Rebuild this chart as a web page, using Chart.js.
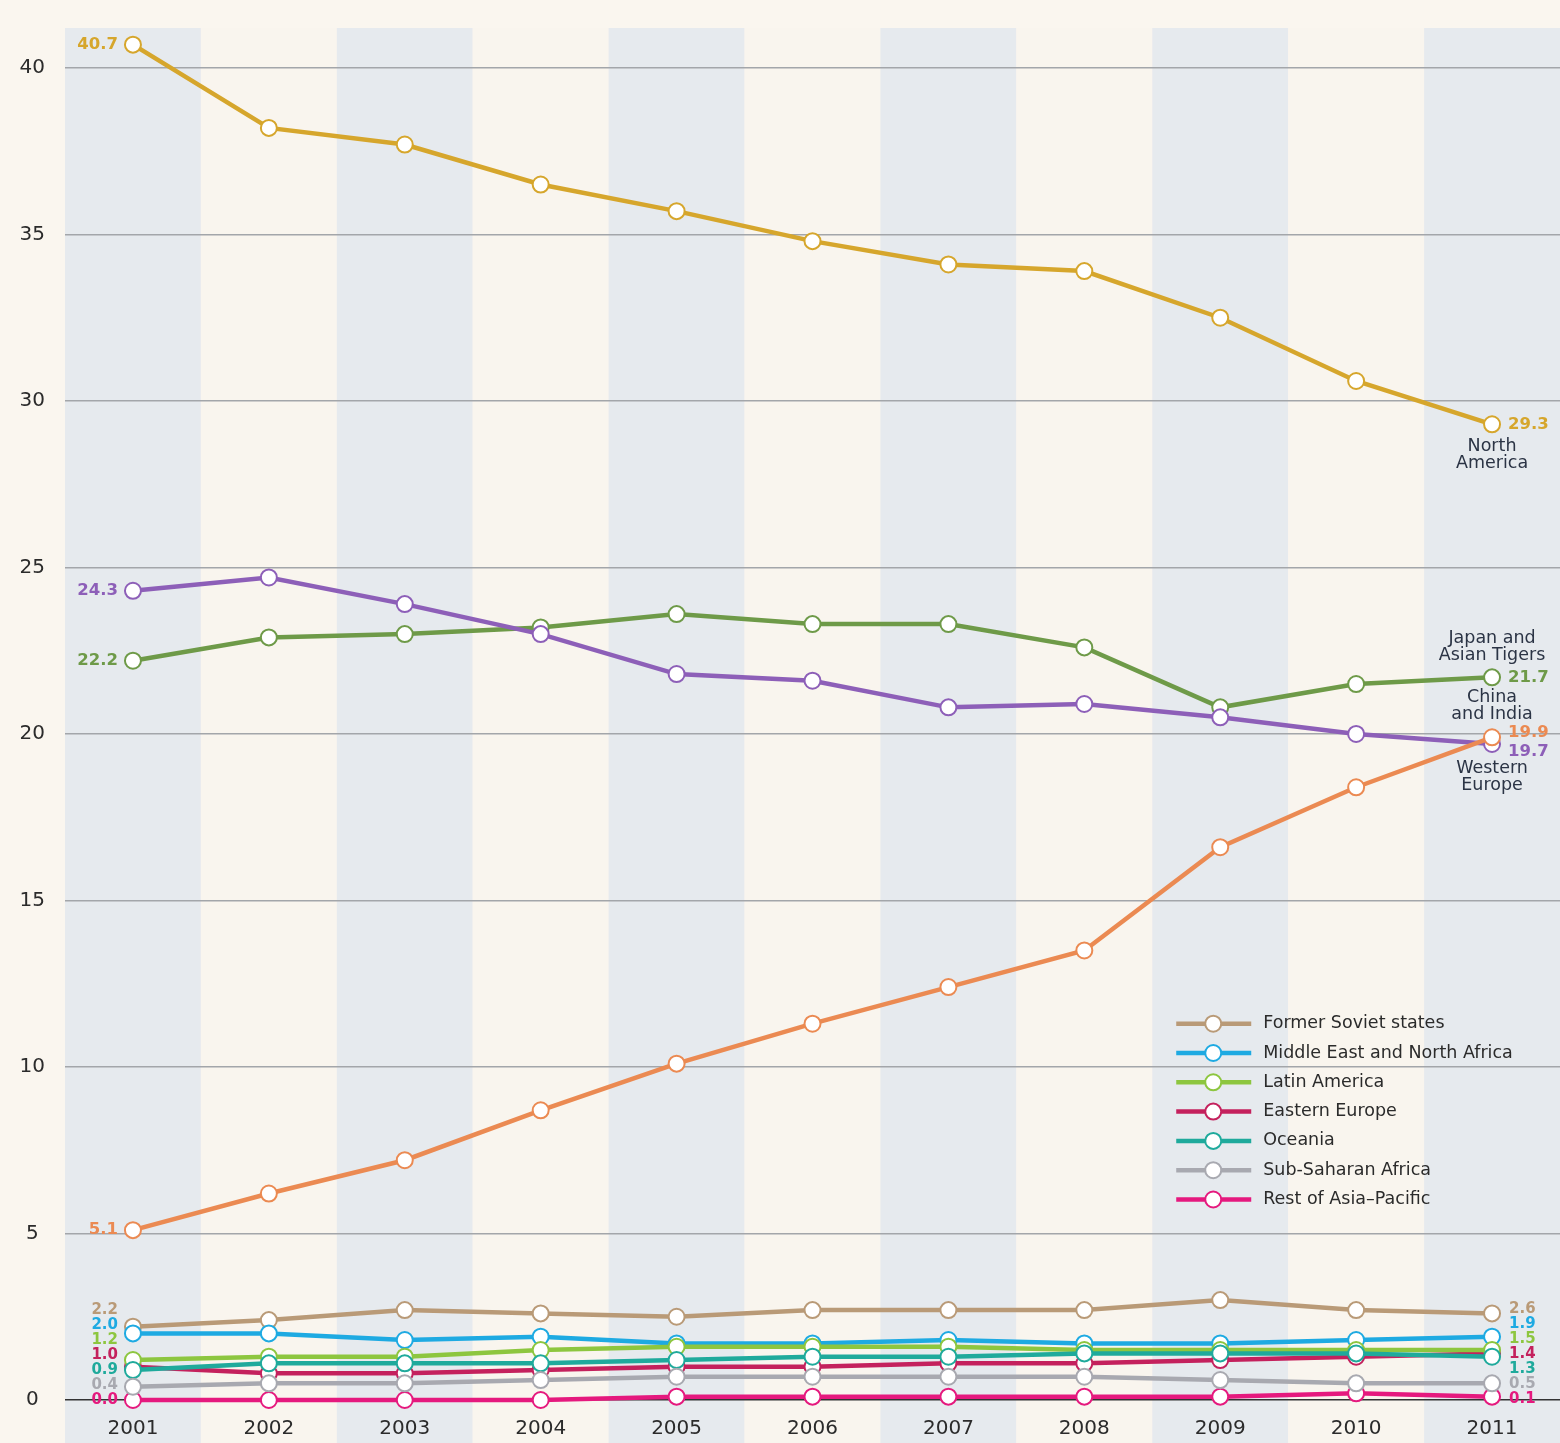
<!DOCTYPE html>
<html>
<head>
<meta charset="utf-8">
<script src="https://cdn.jsdelivr.net/npm/chart.js@4.4.1/dist/chart.umd.min.js"></script>
<style>
  html, body { margin: 0; padding: 0; background: #faf6ef; }
  #wrap { width: 1560px; height: 1443px; position: relative; }
</style>
</head>
<body>
<div id="wrap"><canvas id="c" width="1560" height="1443"></canvas></div>
<script>
const years = ['2001','2002','2003','2004','2005','2006','2007','2008','2009','2010','2011'];
const yTicks = [0, 5, 10, 15, 20, 25, 30, 35, 40];

const northAmerica   = [40.7, 38.2, 37.7, 36.5, 35.7, 34.8, 34.1, 33.9, 32.5, 30.6, 29.3];
const westernEurope  = [24.3, 24.7, 23.9, 23.0, 21.8, 21.6, 20.8, 20.9, 20.5, 20.0, 19.7];
const japanTigers    = [22.2, 22.9, 23.0, 23.2, 23.6, 23.3, 23.3, 22.6, 20.8, 21.5, 21.7];
const chinaIndia     = [5.1, 6.2, 7.2, 8.7, 10.1, 11.3, 12.4, 13.5, 16.6, 18.4, 19.9];
const formerSoviet   = [2.2, 2.4, 2.7, 2.6, 2.5, 2.7, 2.7, 2.7, 3.0, 2.7, 2.6];
const middleEast     = [2.0, 2.0, 1.8, 1.9, 1.7, 1.7, 1.8, 1.7, 1.7, 1.8, 1.9];
const latinAmerica   = [1.2, 1.3, 1.3, 1.5, 1.6, 1.6, 1.6, 1.5, 1.5, 1.5, 1.5];
const easternEurope  = [1.0, 0.8, 0.8, 0.9, 1.0, 1.0, 1.1, 1.1, 1.2, 1.3, 1.4];
const oceania        = [0.9, 1.1, 1.1, 1.1, 1.2, 1.3, 1.3, 1.4, 1.4, 1.4, 1.3];
const subSaharan     = [0.4, 0.5, 0.5, 0.6, 0.7, 0.7, 0.7, 0.7, 0.6, 0.5, 0.5];
const restAsiaPac    = [0.0, 0.0, 0.0, 0.0, 0.1, 0.1, 0.1, 0.1, 0.1, 0.2, 0.1];

const bigNames   = ['North America', 'Western Europe', 'Japan and Asian Tigers', 'China and India'];
const smallNames = ['Former Soviet states', 'Middle East and North Africa', 'Latin America', 'Eastern Europe', 'Oceania', 'Sub-Saharan Africa', 'Rest of Asia\u2013Pacific'];

const COLORS = {
  'North America': '#d6a62c',
  'Western Europe': '#8d5fb8',
  'Japan and Asian Tigers': '#6e9a48',
  'China and India': '#eb8a52',
  'Former Soviet states': '#b99a77',
  'Middle East and North Africa': '#1eaae2',
  'Latin America': '#8dc63f',
  'Eastern Europe': '#c4215d',
  'Oceania': '#1faa9c',
  'Sub-Saharan Africa': '#a8a9b0',
  'Rest of Asia\u2013Pacific': '#e5197e'
};

const seriesData = {
  'North America': northAmerica,
  'Western Europe': westernEurope,
  'Japan and Asian Tigers': japanTigers,
  'China and India': chinaIndia,
  'Former Soviet states': formerSoviet,
  'Middle East and North Africa': middleEast,
  'Latin America': latinAmerica,
  'Eastern Europe': easternEurope,
  'Oceania': oceania,
  'Sub-Saharan Africa': subSaharan,
  'Rest of Asia\u2013Pacific': restAsiaPac
};

const drawOrder = ['Sub-Saharan Africa', 'Oceania', 'Latin America', 'Eastern Europe', 'Middle East and North Africa', 'Former Soviet states', 'Rest of Asia\u2013Pacific',
                   'China and India', 'Western Europe', 'Japan and Asian Tigers', 'North America'];

const datasets = drawOrder.map(name => ({
  label: name,
  data: seriesData[name],
  borderColor: COLORS[name],
  backgroundColor: '#ffffff',
  pointBackgroundColor: '#ffffff',
  pointBorderColor: COLORS[name],
  pointBorderWidth: 2,
  pointRadius: 8,
  pointHoverRadius: 8,
  borderWidth: 4.5,
  tension: 0,
  clip: false
}));

const LABEL_FONT = '"DejaVu Sans", sans-serif';

const bgPlugin = {
  id: 'bands',
  beforeDraw(chart) {
    const { ctx, chartArea, scales } = chart;
    ctx.save();
    ctx.fillStyle = '#faf6ef';
    ctx.fillRect(0, 0, chart.width, chart.height);
    const xs = scales.x;
    const w = xs.getPixelForValue(1) - xs.getPixelForValue(0);
    for (let i = 0; i < years.length; i++) {
      const cx = xs.getPixelForValue(i);
      ctx.fillStyle = (i % 2 === 0) ? '#e6eaee' : '#f9f5ee';
      ctx.fillRect(cx - w / 2, chartArea.top, w, chart.height - chartArea.top);
    }
    ctx.restore();
  }
};

const labelPlugin = {
  id: 'labels',
  afterDatasetsDraw(chart) {
    const { ctx, scales } = chart;
    const xs = scales.x, ys = scales.y;
    const last = years.length - 1;
    const x0 = xs.getPixelForValue(0);
    const x1 = xs.getPixelForValue(last);
    ctx.save();
    ctx.textBaseline = 'middle';

    // big series values
    ctx.font = 'bold 16.5px ' + LABEL_FONT;
    bigNames.forEach(name => {
      const d = seriesData[name];
      ctx.fillStyle = COLORS[name];
      ctx.textAlign = 'right';
      ctx.fillText(d[0].toFixed(1), x0 - 15, ys.getPixelForValue(d[0]));
    });
    const rightOffsets = { 'North America': 0, 'Japan and Asian Tigers': 0, 'China and India': -5, 'Western Europe': 8 };
    bigNames.forEach(name => {
      const d = seriesData[name];
      ctx.fillStyle = COLORS[name];
      ctx.textAlign = 'left';
      ctx.fillText(d[last].toFixed(1), x1 + 16, ys.getPixelForValue(d[last]) + rightOffsets[name]);
    });

    // region names
    ctx.font = '17.5px ' + LABEL_FONT;
    ctx.fillStyle = '#2b3445';
    ctx.textAlign = 'center';
    const nameBlocks = [
      { lines: ['North', 'America'], ref: northAmerica, dy: 22 },
      { lines: ['Japan and', 'Asian Tigers'], ref: japanTigers, dy: -39 },
      { lines: ['China', 'and India'], ref: japanTigers, dy: 20 },
      { lines: ['Western', 'Europe'], ref: westernEurope, dy: 24 }
    ];
    nameBlocks.forEach(b => {
      const y = ys.getPixelForValue(b.ref[last]) + b.dy;
      b.lines.forEach((t, i) => ctx.fillText(t, x1, y + i * 17));
    });

    // small series values, stacked
    ctx.font = 'bold 15px ' + LABEL_FONT;
    const zeroY = ys.getPixelForValue(0);
    const n = smallNames.length;
    smallNames.forEach((name, i) => {
      const d = seriesData[name];
      const y = zeroY - (n - 1 - i) * 15;
      ctx.fillStyle = COLORS[name];
      ctx.textAlign = 'right';
      ctx.fillText(d[0].toFixed(1), x0 - 15, y);
      ctx.textAlign = 'left';
      ctx.fillText(d[last].toFixed(1), x1 + 17, y - 1);
    });

    // legend (small series)
    const lx = xs.getPixelForValue(8) - 44;
    const ly0 = ys.getPixelForValue(11.3);
    ctx.font = '17.5px ' + LABEL_FONT;
    ctx.textAlign = 'left';
    smallNames.forEach((name, i) => {
      const y = ly0 + i * 29.3;
      ctx.strokeStyle = COLORS[name];
      ctx.lineWidth = 4.5;
      ctx.beginPath();
      ctx.moveTo(lx, y);
      ctx.lineTo(lx + 75, y);
      ctx.stroke();
      ctx.beginPath();
      ctx.arc(lx + 37, y, 8, 0, Math.PI * 2);
      ctx.fillStyle = '#ffffff';
      ctx.fill();
      ctx.lineWidth = 2;
      ctx.stroke();
      ctx.fillStyle = '#2b2b2b';
      ctx.fillText(name, lx + 87, y);
    });
    ctx.restore();
  }
};

new Chart(document.getElementById('c'), {
  type: 'line',
  data: { labels: years, datasets },
  plugins: [bgPlugin, labelPlugin],
  options: {
    responsive: false,
    animation: false,
    events: [],
    layout: { autoPadding: false, padding: { top: 28, right: 0, left: 0, bottom: 0 } },
    plugins: { legend: { display: false }, tooltip: { enabled: false } },
    scales: {
      x: {
        type: 'category',
        offset: true,
        grid: { display: false, drawTicks: false },
        border: { display: false },
        ticks: { color: '#2b2b2b', font: { family: LABEL_FONT, size: 20 }, padding: 17, maxRotation: 0 },
        afterFit(scale) { scale.height = 43; }
      },
      y: {
        type: 'linear',
        min: 0,
        max: 41.2,
        afterBuildTicks(scale) { scale.ticks = yTicks.map(v => ({ value: v })); },
        grid: {
          drawTicks: false,
          color: ctx => ctx.tick && ctx.tick.value === 0 ? '#333333' : '#a3a6aa',
          lineWidth: 1.5
        },
        border: { display: false },
        ticks: { color: '#2b2b2b', font: { family: LABEL_FONT, size: 20 }, crossAlign: 'center', padding: 20, callback: v => String(v) },
        afterFit(scale) { scale.width = 65; scale.paddingTop = 0; scale.paddingBottom = 0; }
      }
    }
  }
});
</script>
</body>
</html>
